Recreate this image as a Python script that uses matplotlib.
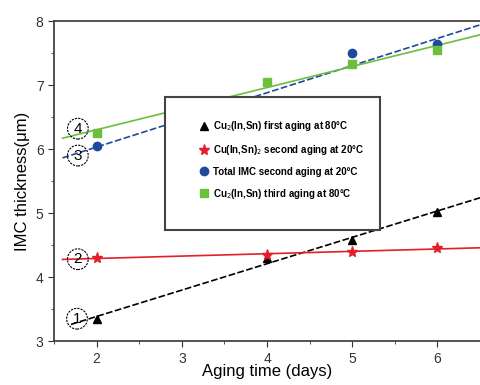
import numpy as np
import matplotlib
matplotlib.use("Agg")
import matplotlib.pyplot as plt
from matplotlib.patches import Rectangle

plt.rcParams["font.family"] = ["Liberation Sans", "DejaVu Sans"]

# data
days = [2, 4, 5, 6]
cu2_first = [3.35, 4.30, 4.58, 5.02]
cu_second = [4.30, 4.35, 4.40, 4.45]
total_second = [6.05, 6.75, 7.50, 7.65]
cu2_third = [6.25, 7.05, 7.33, 7.55]

labels = [
    "Cu$_2$(In,Sn) first aging at 80°C",
    "Cu(In,Sn)$_2$ second aging at 20°C",
    "Total IMC second aging at 20°C",
    "Cu$_2$(In,Sn) third aging at 80°C",
]
series = [cu2_first, cu_second, total_second, cu2_third]
colors = ["black", "#e3202a", "#1f4a9c", "#6cbf3c"]
markers = ["^", "*", "o", "s"]
msizes = [6, 8, 6, 5.5]
styles = [(0, (4, 1.5)), "-", (0, (4, 1.5)), "-"]
tags = ["1", "2", "3", "4"]
tag_pos = [(1.77, 3.35), (1.78, 4.28), (1.78, 5.90), (1.78, 6.32)]

fig = plt.figure(figsize=(4.8, 3.85), dpi=100)
ax = fig.add_axes([0.1125, 0.114, 0.8875, 0.831])

starts = [1.7, 1.6, 1.6, 1.6]
for i, y in enumerate(series):
    k, b = np.polyfit(days, y, 1)
    xx = np.linspace(starts[i], 6.5, 50)
    ax.plot(xx, k * xx + b, color=colors[i], lw=1.2, ls=styles[i], zorder=2)
    ax.plot(days, y, markers[i], color=colors[i], ms=msizes[i], ls="",
            label=labels[i], zorder=3)

for t, (x, y) in zip(tags, tag_pos):
    ax.text(x, y, t, fontsize=11, ha="center", va="center", zorder=4,
            bbox=dict(boxstyle="circle,pad=0.22", fc="none", ec="black",
                      lw=0.8, ls=(0, (2, 1))))

# legend box
ax.add_patch(Rectangle((0.26, 0.347), 0.505, 0.415, transform=ax.transAxes,
                       fc="white", ec="#444444", lw=1.5, zorder=5))
leg = ax.legend(loc="center left", bbox_to_anchor=(0.34, 0.566), frameon=False,
                handletextpad=0.5, labelspacing=1.0, handlelength=1.0,
                borderpad=0, borderaxespad=0,
                prop={"weight": "bold", "size": 7})
leg.set_zorder(6)

ax.set_xlim(1.5, 6.5)
ax.set_ylim(3, 8)
ax.set_xticks([2, 3, 4, 5, 6])
ax.set_xticks(np.arange(1.5, 6.6, 0.5), minor=True)
ax.set_yticks([3, 4, 5, 6, 7, 8])
ax.set_yticks(np.arange(3, 8.1, 0.5), minor=True)
ax.tick_params(which="major", direction="out", length=4, labelsize=10,
               colors="#333333")
ax.tick_params(which="minor", direction="out", length=2.5, colors="#333333")
ax.spines["right"].set_visible(False)
for s in ["left", "bottom", "top"]:
    ax.spines[s].set_linewidth(1.3)
    ax.spines[s].set_color("#444444")

ax.set_xlabel("Aging time (days)", fontsize=12, labelpad=-1)
ax.set_ylabel("IMC thickness(μm)", fontsize=12, labelpad=4)

fig.savefig("out.png", dpi=100)
